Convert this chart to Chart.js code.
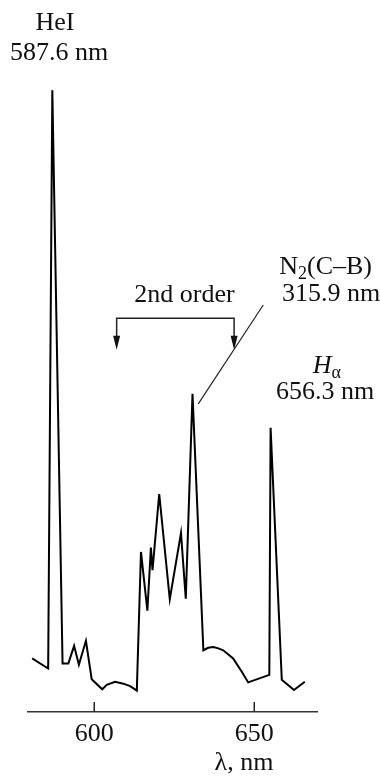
<!DOCTYPE html>
<html>
<head>
<meta charset="utf-8">
<script src="https://cdn.jsdelivr.net/npm/chart.js@4"></script>
<style>
  body { margin: 0; background: #fff; }
  canvas { display: block; }
</style>
</head>
<body>
<canvas id="spectrum" width="380" height="777"></canvas>
<script>
// wavelength, nm
const wavelengths = [580.6, 585.6, 586.9, 590.1, 591.9, 593.7, 595.2, 597.4, 599.2, 602.5,
  603.9, 606.5, 609.1, 611.2, 613.3, 614.6, 616.6, 617.7, 618.2, 620.3,
  623.6, 627.1, 628.6, 630.7, 634.1, 635.6, 637.2, 638.8, 640.3, 643.4, 646.1, 648.1,
  654.7, 655.1, 658.6, 662.4, 665.8];
// emission intensity, arb. units
const intensity = [8.5, 6.9, 98.7, 7.7, 7.7, 10.5, 7.5, 11.3, 5.2, 3.6,
  4.3, 4.8, 4.5, 4.1, 3.4, 25.4, 16.1, 26.1, 22.5, 34.6,
  17.9, 28.4, 18.0, 50.5, 9.8, 10.2, 10.3, 10.1, 9.8, 8.5, 6.4, 4.7,
  5.9, 45.1, 5.1, 3.5, 4.8];
const xTicks = [600, 650];

const serif = "'Liberation Serif', 'DejaVu Serif', serif";

// text notes placed in data coordinates (wavelength, intensity)
const notes = [
  { x: 587.7, y: 109.4, parts: [{ t: "HeI" }] },
  { x: 589.0, y: 104.6, parts: [{ t: "587.6 nm" }] },
  { x: 628.2, y: 66.2, parts: [{ t: "2nd order" }] },
  { x: 672.3, y: 70.6, parts: [{ t: "N" }, { t: "2", sub: true }, { t: "(C–B)" }] },
  { x: 674.0, y: 66.3, parts: [{ t: "315.9 nm" }] },
  { x: 672.7, y: 54.9, parts: [{ t: "H", italic: true }, { t: "α", sub: true }] },
  { x: 672.1, y: 50.8, parts: [{ t: "656.3 nm" }] },
  { x: 646.8, y: -8.1, parts: [{ t: "λ, nm" }] },
];

const decorations = {
  id: "decorations",
  afterDraw(chart) {
    const { ctx, chartArea } = chart;
    const xs = chart.scales.x, ys = chart.scales.y;
    const px = v => xs.getPixelForValue(v);
    const py = v => ys.getPixelForValue(v);
    ctx.save();

    // tick marks pointing into the plot
    ctx.strokeStyle = "#222";
    ctx.lineWidth = 1.5;
    xs.ticks.forEach(t => {
      const x = px(t.value);
      ctx.beginPath();
      ctx.moveTo(x, chartArea.bottom);
      ctx.lineTo(x, chartArea.bottom - 10);
      ctx.stroke();
    });

    // "2nd order" bracket with arrows
    const bl = px(607.0), br = px(643.7), bt = py(62.5), bb = py(57.5);
    ctx.beginPath();
    ctx.moveTo(bl, bb - 10);
    ctx.lineTo(bl, bt);
    ctx.lineTo(br, bt);
    ctx.lineTo(br, bb - 10);
    ctx.stroke();
    ctx.fillStyle = "#111";
    [bl, br].forEach(x => {
      ctx.beginPath();
      ctx.moveTo(x - 3.5, bb - 14);
      ctx.lineTo(x + 3.5, bb - 14);
      ctx.lineTo(x, bb);
      ctx.closePath();
      ctx.fill();
    });

    // leader line to the N2 band head
    ctx.lineWidth = 1.2;
    ctx.beginPath();
    ctx.moveTo(px(652.8), py(64.6));
    ctx.lineTo(px(632.5), py(48.9));
    ctx.stroke();

    // text
    ctx.fillStyle = "#111";
    ctx.textBaseline = "middle";
    ctx.textAlign = "left";
    notes.forEach(n => {
      const fonts = n.parts.map(p =>
        (p.italic ? "italic " : "") + (p.sub ? "18px " : "26px ") + serif);
      let w = 0;
      n.parts.forEach((p, i) => { ctx.font = fonts[i]; w += ctx.measureText(p.t).width; });
      let x = px(n.x) - w / 2;
      const y = py(n.y);
      n.parts.forEach((p, i) => {
        ctx.font = fonts[i];
        ctx.fillText(p.t, x, p.sub ? y + 7 : y);
        x += ctx.measureText(p.t).width;
      });
    });
    ctx.restore();
  }
};

Chart.defaults.font.family = serif;
Chart.defaults.color = "#111";

new Chart(document.getElementById("spectrum"), {
  type: "line",
  data: {
    datasets: [{
      data: wavelengths.map((w, i) => ({ x: w, y: intensity[i] })),
      borderColor: "#000",
      borderWidth: 2,
      pointRadius: 0,
      tension: 0,
      borderJoinStyle: "miter",
      fill: false,
    }],
  },
  options: {
    responsive: false,
    animation: false,
    layout: { padding: { left: 28, right: 63, top: 82, bottom: 0 } },
    plugins: { legend: { display: false }, tooltip: { enabled: false } },
    scales: {
      x: {
        type: "linear",
        min: 579.3,
        max: 669.6,
        afterBuildTicks: s => { s.ticks = xTicks.map(v => ({ value: v })); },
        afterFit: s => { s.height = 65; },
        grid: { display: false, drawTicks: false },
        border: { display: true, color: "#333", width: 1.5 },
        ticks: { font: { size: 26 }, padding: 7, maxRotation: 0, color: "#111" },
      },
      y: { display: false, min: 0, max: 100 },
    },
  },
  plugins: [decorations],
});
</script>
</body>
</html>
